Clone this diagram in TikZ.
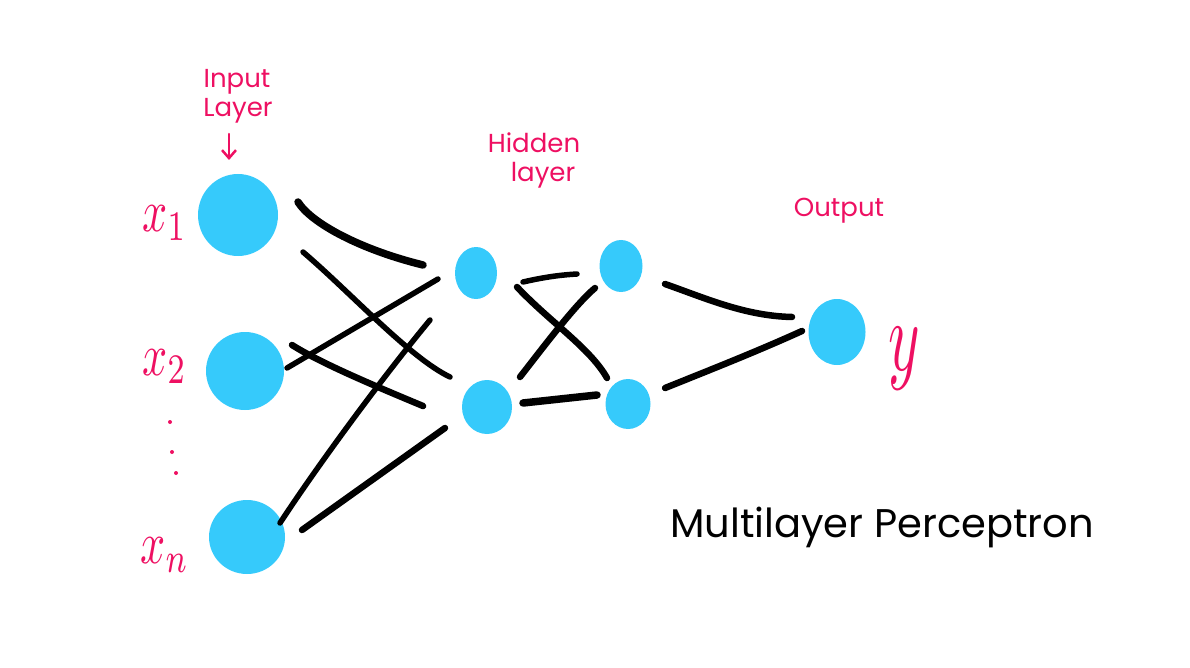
\documentclass[tikz,border=0pt]{standalone}
\usepackage{fontspec}
\setmainfont{Poppins}
\usetikzlibrary{shapes.geometric,arrows.meta}
\definecolor{nodeblue}{RGB}{54,202,251}
\definecolor{inkpink}{RGB}{238,16,98}
\tikzset{
  neuron/.style={ellipse,fill=nodeblue,draw=none,inner sep=0pt},
  wire/.style={line width=6.5pt,line cap=round,black},
  thinwire/.style={line width=5.5pt,line cap=round,black},
  pinklabel/.style={text=inkpink,font=\fontsize{26}{29}\selectfont,inner sep=0pt,anchor=base},
  mathlabel/.style={text=inkpink,inner sep=0pt,anchor=base west},
  dotmark/.style={fill=inkpink,draw=none,circle,inner sep=0pt,minimum size=4pt}
}
\begin{document}
\begin{tikzpicture}[x=1pt,y=-1pt]
\useasboundingbox (0,0) rectangle (1190,668);
% neurons
\node[neuron,minimum width=80pt,minimum height=82pt] (x1) at (238,215) {};
\node[neuron,minimum width=78pt,minimum height=78pt] (x2) at (245,371) {};
\node[neuron,minimum width=76pt,minimum height=74pt] (xn) at (247,537) {};
\node[neuron,minimum width=42pt,minimum height=52pt] (h1a) at (476,273) {};
\node[neuron,minimum width=50pt,minimum height=54pt] (h1b) at (487,407) {};
\node[neuron,minimum width=43pt,minimum height=52pt] (h2a) at (621,266) {};
\node[neuron,minimum width=45pt,minimum height=50pt] (h2b) at (628,404) {};
\node[neuron,minimum width=57pt,minimum height=66pt] (out) at (837,332) {};
% connector end points
\coordinate (a1) at (298,202); \coordinate (b1) at (423,265);
\coordinate (a2) at (303,252); \coordinate (b2) at (450,377);
\coordinate (a3) at (287,368); \coordinate (b3) at (438,279);
\coordinate (a4) at (292,345); \coordinate (b4) at (423,406);
\coordinate (a5) at (280,523); \coordinate (b5) at (430,320);
\coordinate (a6) at (302,530); \coordinate (b6) at (445,428);
\coordinate (a7) at (523,282); \coordinate (b7) at (577,274);
\coordinate (a8) at (517,287); \coordinate (b8) at (607,378);
\coordinate (a9) at (520,377); \coordinate (b9) at (595,288);
\coordinate (a10) at (523,403); \coordinate (b10) at (597,395);
\coordinate (a11) at (665,284); \coordinate (b11) at (792,317);
\coordinate (a12) at (665,388); \coordinate (b12) at (802,331);
% input -> hidden 1
\draw[wire,line width=7.5pt] (a1) .. controls (312,224) and (362,250) .. (b1);
\draw[thinwire] (a2) .. controls (350,292) and (410,358) .. (b2);
\draw[thinwire] (a3) -- (b3);
\draw[wire] (a4) .. controls (322,364) and (380,388) .. (b4);
\draw[thinwire] (a5) .. controls (318,465) and (382,378) .. (b5);
\draw[wire] (a6) -- (b6);
% hidden 1 -> hidden 2
\draw[thinwire] (a7) .. controls (545,277) and (560,275) .. (b7);
\draw[wire] (a8) .. controls (550,322) and (590,348) .. (b8);
\draw[wire] (a9) .. controls (545,345) and (575,305) .. (b9);
\draw[wire,line width=7.5pt] (a10) -- (b10);
% hidden 2 -> output
\draw[wire] (a11) .. controls (705,298) and (745,316) .. (b11);
\draw[wire] (a12) .. controls (720,366) and (760,350) .. (b12);
% labels
\node[pinklabel] (inl1) at (237,88) {Input};
\node[pinklabel] (inl2) at (238,117) {Layer};
\coordinate (arrs) at (229,134);
\coordinate (arre) at (229,160);
\draw[inkpink,line width=2.5pt,line cap=round,-{Straight Barb[length=8pt,width=14pt]}] (arrs) -- (arre);
\node[pinklabel] (hid1) at (534,153) {Hidden};
\node[pinklabel] (hid2) at (543,182) {layer};
\node[pinklabel] (outl) at (839,217) {Output};
\node[mathlabel] (lx1) at (142,232) {\scalebox{4.4}[6]{$x_1$}};
\node[mathlabel] (lx2) at (142,375) {\scalebox{4.4}[6]{$x_2$}};
\node[mathlabel] (lxn) at (140,563) {\scalebox{4.4}[6]{$x_n$}};
\node[mathlabel] (ly) at (888,370) {\scalebox{6}[10]{$y$}};
\node[dotmark] (d1) at (170,422) {};
\node[dotmark] (d2) at (172,452) {};
\node[dotmark] (d3) at (176,473) {};
\node[inner sep=0pt,anchor=base,font=\fontsize{40}{40}\selectfont] (title) at (882,537) {Multilayer Perceptron};
\end{tikzpicture}
\end{document}
